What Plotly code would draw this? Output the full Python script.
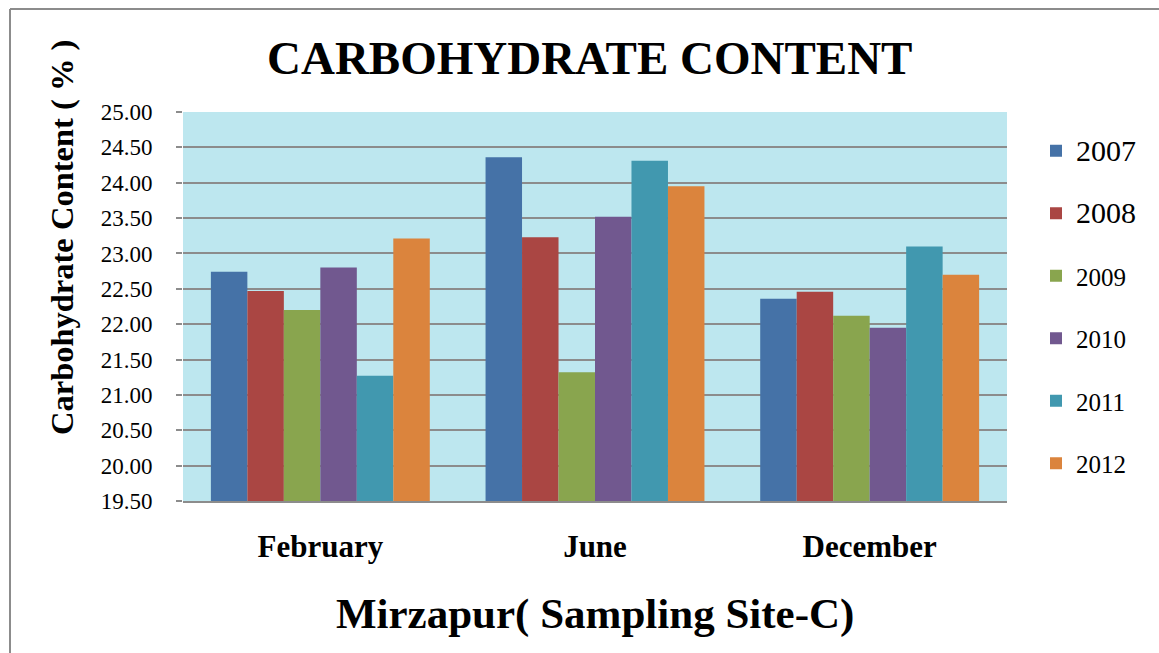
import plotly.graph_objects as go

months = ["February", "June", "December"]
years = ["2007", "2008", "2009", "2010", "2011", "2012"]
values = {
    "2007": [22.74, 24.36, 22.36],
    "2008": [22.47, 23.23, 22.46],
    "2009": [22.20, 21.32, 22.12],
    "2010": [22.80, 23.52, 21.95],
    "2011": [21.27, 24.31, 23.10],
    "2012": [23.21, 23.95, 22.70],
}
colors = ["#4572A7", "#AA4643", "#89A54E", "#71588F", "#4198AF", "#DB843D"]
legend_sizes = [30, 30, 25, 25, 25, 25]
y_ticks = [19.5, 20.0, 20.5, 21.0, 21.5, 22.0, 22.5, 23.0, 23.5, 24.0, 24.5, 25.0]

FONT = "Liberation Serif, Times New Roman, Times, serif"

fig = go.Figure()
for i, yr in enumerate(years):
    fig.add_trace(go.Bar(
        x=months, y=values[yr], name=f"<span style='font-size:{legend_sizes[i]}px'>{yr}</span>",
        marker=dict(color=colors[i], line=dict(width=0)),
        legendgroup=yr,
    ))

W, H = 1159, 653
L, R, T, B = 183, 152, 112, 152
pw, ph = W - L - R, H - T - B

def px(x):
    return (x - L) / pw

def py(y):
    return (H - B - y) / ph

fig.update_layout(
    width=W, height=H,
    margin=dict(l=L, r=R, t=T, b=B),
    paper_bgcolor="white",
    plot_bgcolor="#bde7ef",
    barmode="group",
    bargap=0.203,
    bargroupgap=0,
    font=dict(family=FONT, color="black"),
    showlegend=True,
    legend=dict(
        x=px(1036), y=py(128), xanchor="left", yanchor="top",
        traceorder="grouped", tracegroupgap=27,
        font=dict(family=FONT, size=25, color="black"),
        bgcolor="rgba(0,0,0,0)",
        itemwidth=30,
    ),
    xaxis=dict(
        showgrid=False, showline=True, linecolor="#8c8c8c", linewidth=2,
        ticks="", tickfont=dict(family=FONT, size=31, color="black"),
        ticklabelstandoff=17,
        tickvals=months, ticktext=[f"<b>{m}</b>" for m in months],
    ),
    yaxis=dict(
        range=[19.5, 25.0], tickvals=y_ticks, tickformat=".2f",
        showgrid=True, gridcolor="#8c8c8c", gridwidth=2,
        zeroline=False, showline=False,
        ticks="outside", ticklen=6, tickcolor="#8c8c8c", tickwidth=2,
        tickfont=dict(family=FONT, size=23, color="black"),
        ticklabelstandoff=19,
    ),
    annotations=[
        dict(text="<b>CARBOHYDRATE CONTENT</b>", x=px(589), y=py(58),
             xref="paper", yref="paper", showarrow=False,
             xanchor="center", yanchor="middle",
             font=dict(family=FONT, size=47, color="black")),
        dict(text="<b>Carbohydrate Content ( % )</b>", x=px(62), y=py(238),
             xref="paper", yref="paper", showarrow=False, textangle=-90,
             xanchor="center", yanchor="middle",
             font=dict(family=FONT, size=32.5, color="black")),
        dict(text="<b>Mirzapur( Sampling Site-C)</b>", x=px(595), y=py(614),
             xref="paper", yref="paper", showarrow=False,
             xanchor="center", yanchor="middle",
             font=dict(family=FONT, size=43, color="black")),
    ],
    shapes=[
        dict(type="line", xref="paper", yref="paper", x0=px(10), x1=px(1159), y0=py(9), y1=py(9),
             line=dict(color="#8c8c8c", width=2)),
        dict(type="line", xref="paper", yref="paper", x0=px(10), x1=px(10), y0=py(9), y1=py(653),
             line=dict(color="#8c8c8c", width=2)),
    ],
)

fig.write_html("out.html", config={"displayModeBar": False},
               post_script="document.body.style.margin='0';document.body.style.padding='0';")
